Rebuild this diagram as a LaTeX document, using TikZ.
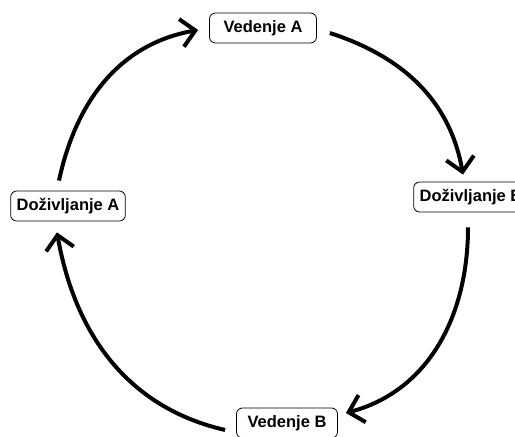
\documentclass[tikz,border=0pt]{standalone}
\usepackage{fontspec}
\setmainfont{Liberation Sans}
\usepackage{tikz}
\usetikzlibrary{positioning, arrows.meta}

\tikzset{
    faza/.style={draw, rounded corners=6pt, line width=0.8pt, inner xsep=6pt,
        minimum height=30pt, minimum width=101pt, font=\fontsize{16.5}{19}\selectfont\bfseries},
    luk/.style={line width=4pt, -{Straight Barb[length=14pt, width=28pt]}}
}

\begin{document}
\begin{tikzpicture}[x=1pt, y=1pt]
            \useasboundingbox (0,0) rectangle (515,437);

            \node[faza, minimum width=107pt] (VA) at (263, 409) {Vedenje A};
            \node[faza] (DA) at (68, 231) {Doživljanje A};
            \node[faza] (DB) at (471, 240) {Doživljanje B};
            \node[faza] (VB) at (287, 14) {Vedenje B};

            \draw [luk] ([shift={(13,-5)}]VA.east) to [out=-18, in=100] ([shift={(-8,7)}]DB.north);
            \draw [luk] ([shift={(-3,-15)}]DB.south) to [out=-90, in=15] ([shift={(8,10)}]VB.east);
            \draw [luk] ([shift={(-11,-7)}]VB.west) to [out=167, in=-80] ([shift={(-11,-11)}]DA.south);
            \draw [luk] ([shift={(-9,10)}]DA.north) to [out=78, in=190] ([shift={(-11,-2)}]VA.west);
        \end{tikzpicture}
\end{document}
